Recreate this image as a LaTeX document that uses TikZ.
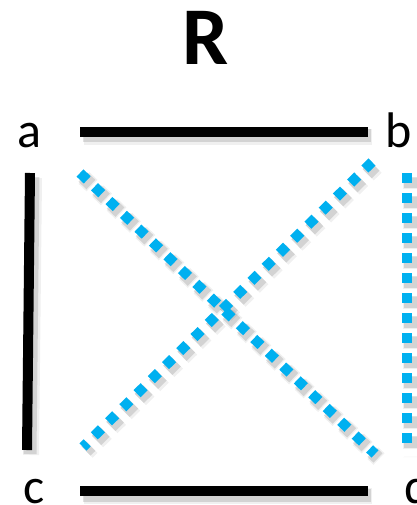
\documentclass[tikz,border=0pt]{standalone}
\usepackage{fontspec}
\setmainfont{Carlito}
\definecolor{sqblue}{HTML}{00B0F0}
\begin{document}
\begin{tikzpicture}[x=1pt,y=-1pt,
  solidedge/.style={draw=black,line width=10pt},
  dotedge/.style={draw=sqblue,line width=10pt,dash pattern=on 10pt off 10pt},
  shadowsolid/.style={draw=black,opacity=0.12,line width=13pt},
  shadowdot/.style={draw=black,opacity=0.12,line width=13pt,dash pattern=on 12pt off 8pt,dash phase=1pt},
  lbl/.style={font=\fontsize{50}{50}\selectfont,anchor=base,inner sep=0pt},
  ttl/.style={font=\fontsize{82}{82}\selectfont\bfseries,anchor=base,inner sep=0pt}]
\useasboundingbox (0,0) rectangle (416,505);
\node[ttl] (R) at (206,65) {R};
\node[lbl] (a) at (29,147) {a};
\node[lbl] (b) at (399,147) {b};
\node[lbl] (c) at (34,503) {c};
\node[lbl] (d) at (418,503) {d};
% endpoints
\coordinate (abL) at (80,132);
\coordinate (abR) at (368,132);
\coordinate (acT) at (30,173);
\coordinate (acB) at (27,450);
\coordinate (cdL) at (80,491);
\coordinate (cdR) at (368,491);
\coordinate (bdT) at (407,173);
\coordinate (bdB) at (407,452);
\coordinate (adT) at (80,173);
\coordinate (adB) at (375,454);
\coordinate (bcT) at (372,162);
\coordinate (bcB) at (83,447);
% shadows
\begin{scope}[transform canvas={shift={(3pt,-4pt)}}]
\draw[shadowdot] (adT) -- (adB);
\draw[shadowdot] (bcT) -- (bcB);
\draw[shadowdot] (bdT) -- (bdB);
\draw[shadowsolid] (abL) -- (abR);
\draw[shadowsolid] (acT) -- (acB);
\draw[shadowsolid] (cdL) -- (cdR);
\end{scope}
\begin{scope}[transform canvas={shift={(4pt,-5pt)}}]
\draw[shadowdot,line width=16pt,opacity=0.06] (adT) -- (adB);
\draw[shadowdot,line width=16pt,opacity=0.06] (bcT) -- (bcB);
\draw[shadowdot,line width=16pt,opacity=0.06] (bdT) -- (bdB);
\draw[shadowsolid,line width=16pt,opacity=0.06] (abL) -- (abR);
\draw[shadowsolid,line width=16pt,opacity=0.06] (acT) -- (acB);
\draw[shadowsolid,line width=16pt,opacity=0.06] (cdL) -- (cdR);
\end{scope}
% connectors
\draw[dotedge] (adT) -- (adB);
\draw[dotedge] (bcT) -- (bcB);
\draw[dotedge] (bdT) -- (bdB);
\draw[solidedge] (abL) -- (abR);
\draw[solidedge] (acT) -- (acB);
\draw[solidedge] (cdL) -- (cdR);
\end{tikzpicture}
\end{document}
